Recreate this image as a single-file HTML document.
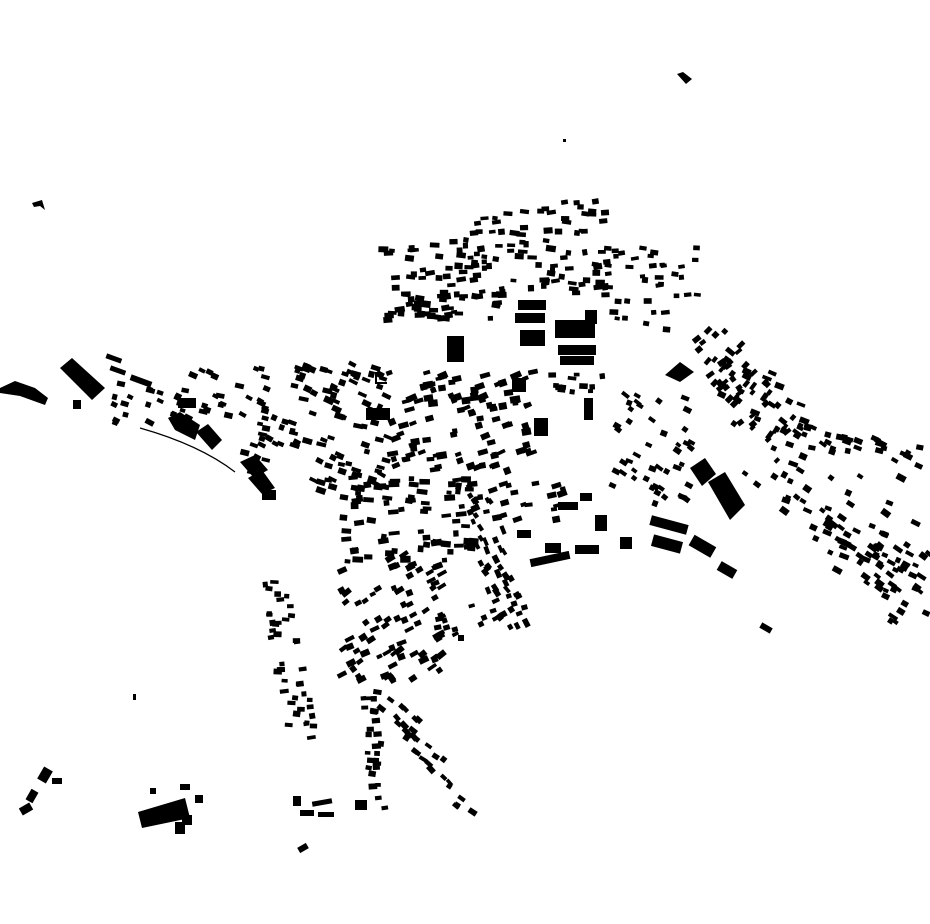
<!DOCTYPE html>
<html><head><meta charset="utf-8"><style>
html,body{margin:0;padding:0;background:#fff;}
svg{display:block;}
</style></head><body>
<svg id="m" width="930" height="924" viewBox="0 0 930 924" xmlns="http://www.w3.org/2000/svg">
<rect width="930" height="924" fill="#fff"/>
<g fill="#000">
<polygon points="677,74 683,72 692,79 686,84"/>
<polygon points="32,203 42,200 45,210 40,206 34,207"/>
<rect x="563" y="139" width="3" height="3"/>
<polygon points="0,388 15,381 35,388 48,398 45,405 20,396 0,393"/>
<polygon points="60,368 72,358 105,388 92,400"/>
<rect x="73" y="400" width="8" height="9"/>
<rect x="106" y="356" width="16" height="5" transform="rotate(20 114 358)"/>
<rect x="110" y="368" width="16" height="5" transform="rotate(20 118 370)"/>
<rect x="130" y="378" width="22" height="6" transform="rotate(20 141 381)"/>
<polygon points="168,418 180,412 200,425 195,440 175,430"/>
<polygon points="196,432 208,424 222,440 212,450"/>
<rect x="178" y="398" width="18" height="10"/>
<polygon points="240,462 255,455 268,470 254,478"/>
<polygon points="248,478 262,470 275,488 262,494"/>
<rect x="262" y="490" width="14" height="10"/>
<rect x="447" y="336" width="17" height="26"/>
<rect x="518" y="300" width="28" height="10"/>
<rect x="515" y="313" width="30" height="10"/>
<rect x="520" y="330" width="25" height="16"/>
<rect x="555" y="320" width="40" height="18"/>
<rect x="558" y="345" width="38" height="10"/>
<rect x="560" y="356" width="34" height="9"/>
<rect x="585" y="310" width="12" height="14"/>
<rect x="584" y="398" width="9" height="22"/>
<rect x="534" y="418" width="14" height="18"/>
<rect x="366" y="408" width="24" height="12"/>
<rect x="512" y="378" width="14" height="14"/>
<polygon points="690,468 705,458 716,474 702,486"/>
<polygon points="708,482 725,472 745,505 730,520"/>
<rect x="650" y="520" width="38" height="10" transform="rotate(15 669 525)"/>
<rect x="652" y="538" width="30" height="12" transform="rotate(15 667 544)"/>
<rect x="690" y="540" width="25" height="12" transform="rotate(30 702 546)"/>
<rect x="718" y="565" width="18" height="10" transform="rotate(30 727 570)"/>
<rect x="530" y="555" width="40" height="8" transform="rotate(-12 550 559)"/>
<rect x="545" y="543" width="16" height="10"/>
<rect x="575" y="545" width="24" height="9"/>
<rect x="595" y="515" width="12" height="16"/>
<rect x="620" y="537" width="12" height="12"/>
<rect x="558" y="502" width="20" height="8"/>
<rect x="580" y="493" width="12" height="8"/>
<rect x="517" y="530" width="14" height="8"/>
<polygon points="665,375 680,362 694,372 680,382"/>
<rect x="760" y="625" width="12" height="6" transform="rotate(30 766 628)"/>
<rect x="133" y="694" width="3" height="6"/>
<rect x="40" y="768" width="10" height="14" transform="rotate(30 45 775)"/>
<rect x="28" y="790" width="8" height="12" transform="rotate(30 32 796)"/>
<rect x="20" y="805" width="12" height="8" transform="rotate(-30 26 809)"/>
<rect x="52" y="778" width="10" height="6"/>
<polygon points="138,812 185,798 190,818 142,828"/>
<rect x="175" y="822" width="10" height="12"/>
<rect x="182" y="815" width="10" height="10"/>
<rect x="180" y="784" width="10" height="6"/>
<rect x="195" y="795" width="8" height="8"/>
<rect x="150" y="788" width="6" height="6"/>
<rect x="293" y="796" width="8" height="10"/>
<rect x="300" y="810" width="14" height="6"/>
<rect x="312" y="800" width="20" height="5" transform="rotate(-10 322 802)"/>
<rect x="318" y="812" width="16" height="5"/>
<rect x="298" y="845" width="10" height="6" transform="rotate(-30 303 848)"/>
<rect x="355" y="800" width="12" height="10"/>
<rect x="458" y="635" width="6" height="6"/>
<path d="M140,428 Q200,445 235,472" stroke="#000" stroke-width="1.2" fill="none"/>
<rect x="375" y="372" width="2" height="12"/><rect x="375" y="382" width="12" height="2"/>
</g>
<g id="gen" fill="#000"></g>
</svg>
<script>
(function(){
var s=12345;function r(){s=(s*1103515245+12345)%2147483648;return s/2147483648;}
var g=document.getElementById('gen');var out='';
function reg(x0,y0,x1,y1,n,wmin,wmax,ang){
 for(var i=0;i<n;i++){
  var x=x0+r()*(x1-x0),y=y0+r()*(y1-y0);
  var w=wmin+r()*(wmax-wmin),h=wmin*0.7+r()*(wmax-wmin)*0.6;
  var a=(ang||0)+(r()-0.5)*20;
  out+='<rect x="'+x.toFixed(1)+'" y="'+y.toFixed(1)+'" width="'+w.toFixed(1)+'" height="'+h.toFixed(1)+'" transform="rotate('+a.toFixed(0)+' '+x.toFixed(1)+' '+y.toFixed(1)+')"/>';
 }
}
function line(xa,ya,xb,yb,n,wmin,wmax,ang,spread){
 for(var i=0;i<n;i++){var t=r();var x=xa+(xb-xa)*t+(r()-0.5)*spread,y=ya+(yb-ya)*t+(r()-0.5)*spread;
  reg(x,y,x+1,y+1,1,wmin,wmax,ang);}
}
reg(378,238,495,318,75,5,10,0);
reg(462,210,500,240,8,5,9,0);
reg(495,198,605,295,70,5,10,0);
reg(600,238,665,330,30,5,9,0);
reg(668,240,695,295,8,5,8,0);
reg(380,300,450,320,8,6,11,0);
reg(290,360,385,490,85,5,10,20);
reg(385,370,530,470,100,5,11,-15);
reg(530,372,600,390,12,5,9,0);
reg(340,475,470,560,75,5,11,0);
reg(335,555,440,680,80,5,10,-30);
line(470,490,520,620,40,5,9,60,30);
line(420,630,520,600,20,5,8,-20,25);
reg(470,480,560,520,22,5,10,-15);
line(365,680,375,800,25,5,9,0,15);
line(385,690,465,800,30,5,9,40,22);
line(270,585,300,735,40,5,9,0,25);
line(700,345,780,440,55,5,9,-45,45);
reg(610,390,690,500,45,5,9,30);
line(740,380,925,600,90,5,10,30,90);
line(790,430,925,455,30,5,9,20,20);
line(830,520,925,600,35,5,9,30,35);
reg(112,380,160,420,14,5,9,20);
reg(170,365,265,415,30,5,9,20);
reg(240,410,300,470,20,5,9,20);
g.innerHTML=out;
})();
</script>
</body></html>
